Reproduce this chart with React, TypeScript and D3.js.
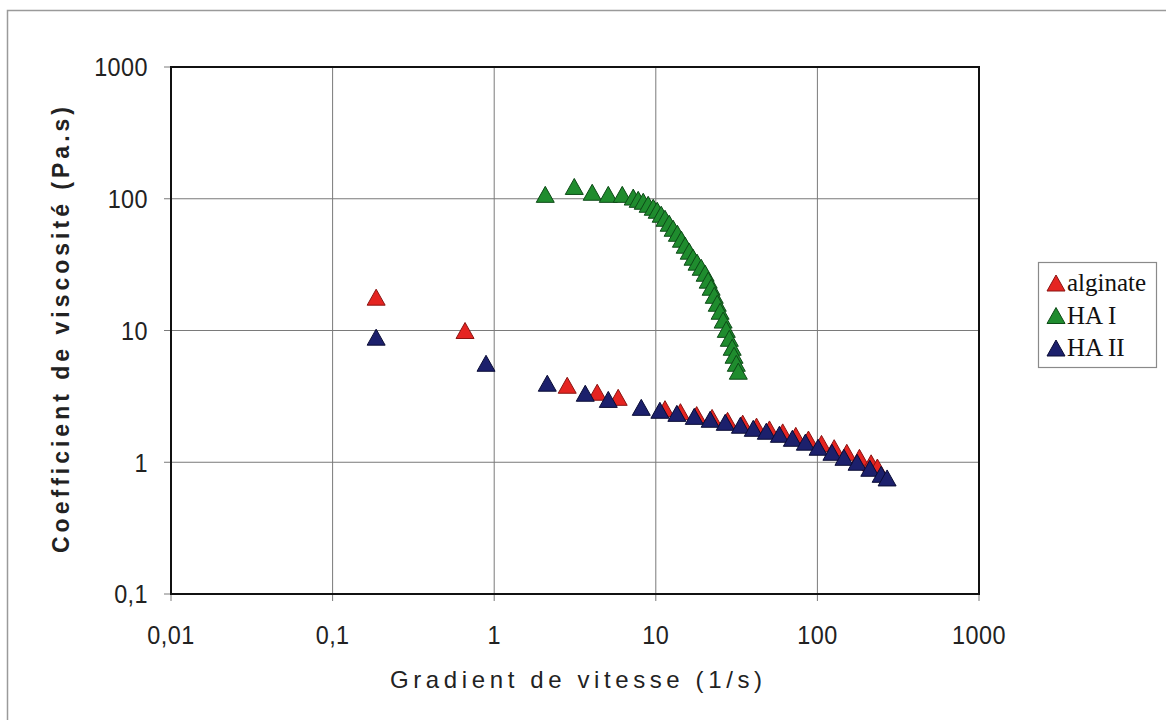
import React from "react";
import * as d3 from "d3";

const xTicks = [0.01, 0.1, 1, 10, 100, 1000];
const xTickLabels = ["0,01", "0,1", "1", "10", "100", "1000"];
const yTicks = [0.1, 1, 10, 100, 1000];
const yTickLabels = ["0,1", "1", "10", "100", "1000"];

const seriesNames = ["alginate", "HA I", "HA II"];

const alginateX = [0.186, 0.66, 2.83, 4.34, 5.85, 11.4, 14.2, 17.9, 22.3, 27.8, 34.5, 42.0, 50.5, 61.0, 73.5, 88.0, 106, 127, 152, 182, 215, 235];
const alginateY = [17.9, 10.0, 3.84, 3.4, 3.11, 2.55, 2.42, 2.3, 2.19, 2.08, 1.98, 1.88, 1.79, 1.7, 1.6, 1.5, 1.39, 1.29, 1.19, 1.09, 0.99, 0.92];

const haIX = [2.07, 3.13, 4.04, 5.08, 6.2, 7.25, 7.78, 8.36, 8.97, 9.64, 10.2, 10.8, 11.4, 12.1, 12.8, 13.6, 14.4, 15.2, 16.1, 17.0, 18.0, 19.1, 20.2, 21.1, 22.0, 23.0, 24.0, 25.0, 26.1, 27.3, 28.5, 29.7, 30.5, 31.5, 32.4];
const haIY = [108, 124, 112, 108, 108, 103, 99, 95.7, 90.8, 86.2, 81.8, 76.3, 71.1, 65.2, 59.7, 54.7, 49.3, 44.4, 40.0, 36.0, 33.0, 30.2, 27.2, 24.1, 21.3, 18.5, 16.1, 14.0, 12.0, 10.2, 8.73, 7.46, 6.49, 5.64, 4.91];

const haIIX = [0.186, 0.89, 2.13, 3.66, 5.08, 8.13, 10.6, 13.5, 17.3, 21.7, 26.9, 33.4, 40.1, 48.3, 58.2, 70.0, 84.2, 101, 123, 146, 176, 211, 248, 270];
const haIIY = [8.9, 5.64, 3.98, 3.34, 3.0, 2.61, 2.48, 2.35, 2.23, 2.12, 2.01, 1.91, 1.81, 1.72, 1.63, 1.52, 1.42, 1.3, 1.19, 1.09, 1.0, 0.9, 0.81, 0.76];

const fills = ["#e52421", "#1f8c2e", "#1c206c"];
const strokes = ["#8a1412", "#0d4a17", "#0a0c35"];

const W = 1166;
const H = 720;
const L = 171, R = 979, T = 67, B = 594;

function tri(cx: number, cy: number, w = 18, h = 16) {
  return `M${cx},${cy - h / 2}L${cx + w / 2},${cy + h / 2}L${cx - w / 2},${cy + h / 2}Z`;
}

export default function App() {
  const x = d3.scaleLog().domain([0.01, 1000]).range([L, R]);
  const y = d3.scaleLog().domain([0.1, 1000]).range([B, T]);

  const series = [
    { xs: alginateX, ys: alginateY },
    { xs: haIX, ys: haIY },
    { xs: haIIX, ys: haIIY },
  ];

  const sans = "'Liberation Sans', Arial, sans-serif";

  return (
    <svg width={W} height={H} style={{ position: "absolute", left: 0, top: 0, background: "#fff" }}>
      <rect x={0} y={0} width={W} height={H} fill="#fff" />
      {/* outer frame */}
      <rect x={7.5} y={10.5} width={W + 20} height={H + 20} fill="none" stroke="#9a9a9a" strokeWidth={1.5} />

      {/* gridlines */}
      {xTicks.map((t, i) => (
        <line key={"gx" + i} x1={x(t)} x2={x(t)} y1={T} y2={B + 7} stroke="#7a7a7a" strokeWidth={1} />
      ))}
      {yTicks.map((t, i) => (
        <line key={"gy" + i} x1={L - 7} x2={R} y1={y(t)} y2={y(t)} stroke="#7a7a7a" strokeWidth={1} />
      ))}

      {/* plot border */}
      <rect x={L} y={T} width={R - L} height={B - T} fill="none" stroke="#111" strokeWidth={2} />

      {/* y tick labels */}
      {yTicks.map((t, i) => (
        <text key={"yl" + i} transform={`translate(148,${y(t)}) scale(0.9,1)`} dy="0.36em" textAnchor="end" fontFamily={sans} fontSize={26} fill="#222" letterSpacing={0.5}>
          {yTickLabels[i]}
        </text>
      ))}
      {/* x tick labels */}
      {xTicks.map((t, i) => (
        <text key={"xl" + i} transform={`translate(${x(t)},644) scale(0.9,1)`} textAnchor="middle" fontFamily={sans} fontSize={26} fill="#222" letterSpacing={0.5}>
          {xTickLabels[i]}
        </text>
      ))}

      {/* axis titles */}
      <text x={576} y={688} textAnchor="middle" fontFamily={sans} fontSize={24} fill="#222" textLength={372} lengthAdjust="spacing">
        Gradient de vitesse (1/s)
      </text>
      <text
        transform={`translate(69,330) rotate(-90)`}
        textAnchor="middle"
        fontFamily={sans}
        fontWeight="bold"
        fontSize={23}
        fill="#222"
        textLength={446}
        lengthAdjust="spacing"
      >
        Coefficient de viscosité (Pa.s)
      </text>

      {/* data */}
      {series.map((s, si) => (
        <g key={"s" + si}>
          {s.xs.map((xv, j) => (
            <path key={j} d={tri(x(xv), y(s.ys[j]))} fill={fills[si]} stroke={strokes[si]} strokeWidth={1} strokeLinejoin="round" />
          ))}
        </g>
      ))}

      {/* legend */}
      <rect x={1038.5} y={262.5} width={118} height={105} fill="#fff" stroke="#8a8a8a" strokeWidth={1.2} />
      {seriesNames.map((n, i) => (
        <g key={"lg" + i}>
          <path d={tri(1056, 283 + i * 32.5)} fill={fills[i]} stroke={strokes[i]} strokeWidth={1} strokeLinejoin="round" />
          <text x={1067} y={283 + i * 32.5 + 8} fontFamily="'Liberation Serif', 'Times New Roman', serif" fontSize={25} fill="#111">
            {n}
          </text>
        </g>
      ))}
    </svg>
  );
}
